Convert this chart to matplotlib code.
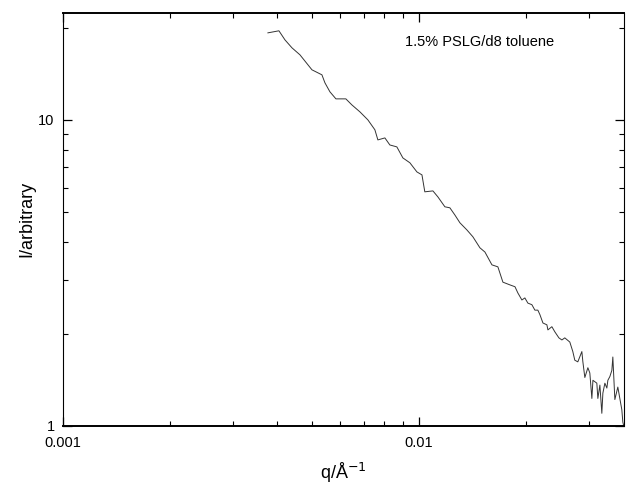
import matplotlib
matplotlib.use("Agg")
import matplotlib.pyplot as plt
from matplotlib.ticker import NullFormatter

plt.rcParams["font.family"] = ["Liberation Sans", "DejaVu Sans"]

# scattering curve
q = [0.003765, 0.004043, 0.004204, 0.004399, 0.004632, 0.005006, 0.005340, 0.005445,
     0.005623, 0.005846, 0.006234, 0.006482, 0.006828, 0.007188, 0.007522, 0.007669,
     0.008025, 0.008286, 0.008671, 0.009016, 0.009434, 0.009872, 0.01020, 0.01039,
     0.01095, 0.01131, 0.01183, 0.01222, 0.01262, 0.01304, 0.01364, 0.01418,
     0.01484, 0.01533, 0.01604, 0.01667, 0.01722, 0.01802, 0.01862, 0.01897,
     0.01947, 0.01985, 0.02024, 0.02077, 0.02118, 0.02159, 0.02188, 0.02231,
     0.02289, 0.02304, 0.02364, 0.02410, 0.02474, 0.02522, 0.02570, 0.02655,
     0.02707, 0.02742, 0.02796, 0.02870, 0.02889, 0.02926, 0.02984, 0.03022,
     0.03062, 0.03083, 0.03162, 0.03183, 0.03225, 0.03266, 0.03288, 0.03331,
     0.03374, 0.03396, 0.03440, 0.03485, 0.03507, 0.03553, 0.03622, 0.03717,
     0.03741, 0.0377]
intensity = [19.24, 19.54, 18.25, 17.19, 16.31, 14.57, 14.03, 13.21,
             12.35, 11.71, 11.71, 11.19, 10.62, 10.0, 9.28, 8.60,
             8.73, 8.28, 8.16, 7.51, 7.24, 6.76, 6.61, 5.82,
             5.86, 5.60, 5.20, 5.16, 4.89, 4.61, 4.37, 4.15,
             3.82, 3.70, 3.36, 3.31, 2.95, 2.89, 2.85, 2.72,
             2.58, 2.62, 2.52, 2.49, 2.39, 2.39, 2.31, 2.17,
             2.14, 2.06, 2.11, 2.03, 1.94, 1.91, 1.94, 1.88,
             1.75, 1.64, 1.62, 1.75, 1.62, 1.44, 1.55, 1.49,
             1.23, 1.41, 1.38, 1.23, 1.36, 1.10, 1.28, 1.38,
             1.33, 1.41, 1.45, 1.52, 1.68, 1.22, 1.34, 1.13,
             1.03, 0.99]

x_ticks = [0.001, 0.01]
x_ticklabels = ["0.001", "0.01"]
y_ticks = [1, 10]
y_ticklabels = ["1", "10"]

fig = plt.figure(figsize=(6.3, 4.86), dpi=100)
ax = fig.add_axes([0.1, 0.1235, 0.8905, 0.8505])
ax.plot(q, intensity, color="#333333", linewidth=0.7)
ax.set_xscale("log")
ax.set_yscale("log")
ax.set_xlim(0.001, 0.0377)
ax.set_ylim(1, 22.4)

ax.set_xticks(x_ticks)
ax.set_xticklabels(x_ticklabels)
ax.set_yticks(y_ticks)
ax.set_yticklabels(y_ticklabels)
ax.xaxis.set_minor_formatter(NullFormatter())
ax.yaxis.set_minor_formatter(NullFormatter())
ax.tick_params(which="both", direction="in", top=True, right=True, labelsize=10.5)
ax.tick_params(which="major", length=6.5, width=0.9)
ax.tick_params(which="minor", length=3.5, width=0.8)
ax.tick_params(axis="x", which="major", pad=7)
ax.tick_params(axis="y", which="major", pad=6)
for side in ["top", "bottom"]:
    ax.spines[side].set_linewidth(1.4)
for side in ["left", "right"]:
    ax.spines[side].set_linewidth(0.8)

ax.set_xlabel("q/Å$^{-1}$", fontsize=13, labelpad=8)
ax.set_ylabel("I/arbitrary", fontsize=13, labelpad=2)
ax.text(0.61, 0.929, "1.5% PSLG/d8 toluene", transform=ax.transAxes,
        fontsize=10.5, va="center")

fig.savefig("out.png", dpi=100)
